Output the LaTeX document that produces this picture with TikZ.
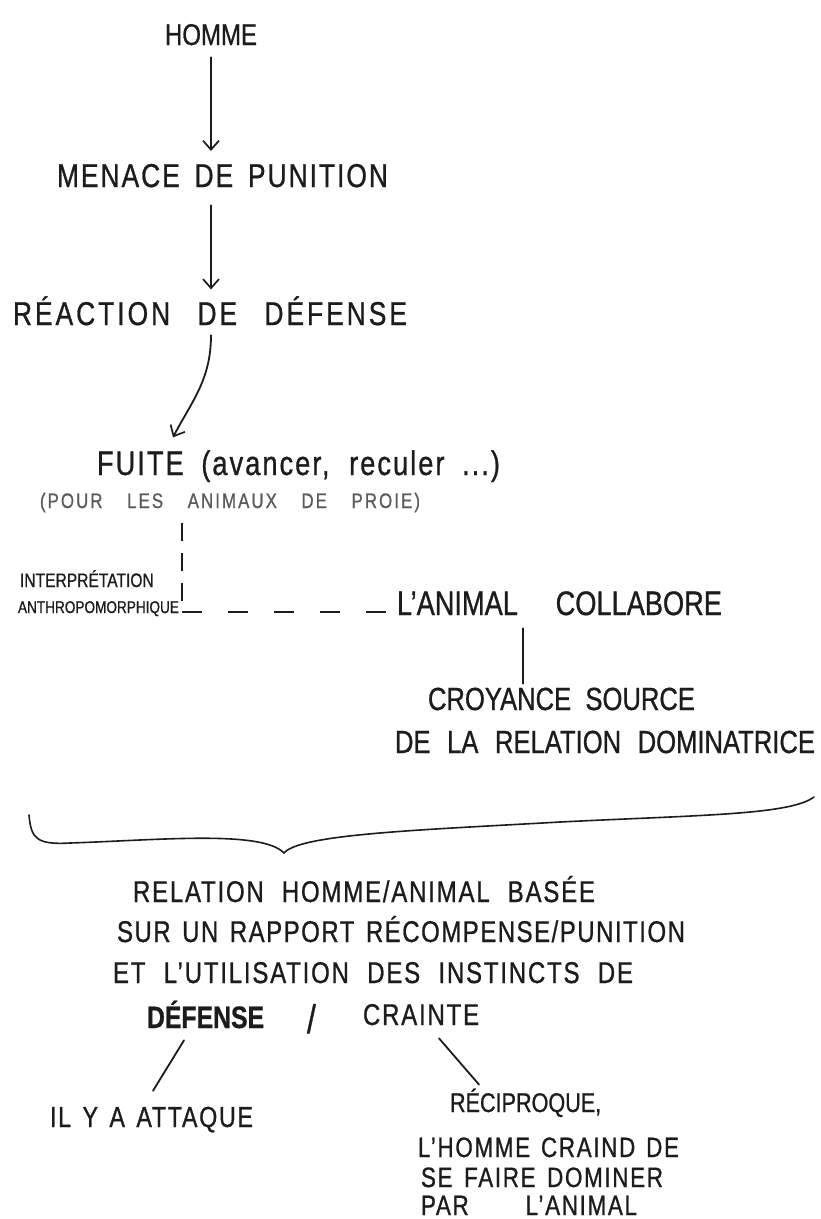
\documentclass[tikz,border=0pt]{standalone}
\usepackage{fontspec}
\setmainfont{Liberation Sans}[FakeStretch=0.8,FakeBold=0.8]
\usetikzlibrary{arrows.meta}
\definecolor{ink}{HTML}{1C1C1C}
\definecolor{pale}{HTML}{5A5A5A}
\newcommand\fsz[1]{\fontsize{#1}{#1}\selectfont}
\newcommand\lsp[1]{\addfontfeatures{LetterSpace=#1}}
\newcommand\wl[2]{\makebox[#1][s]{#2}}
\begin{document}
\begin{tikzpicture}[x=1pt,y=-1pt,
  txt/.style={inner sep=0pt, outer sep=0pt, text=ink, anchor=base west},
  conn/.style={draw=ink, line width=1.8pt, line cap=round},
  arr/.style={conn, -{Straight Barb[length=9pt,width=16pt,line width=1.7pt]}},
  dashv/.style={draw=ink, line width=1.8pt, dash pattern=on 18pt off 12pt},
  dashh/.style={draw=ink, line width=1.8pt, dash pattern=on 20pt off 26pt}]

\fill[white] (0,0) rectangle (820,1219);
\useasboundingbox (0,0) rectangle (820,1219);

% texts
\node[txt] (homme) at (165,45) {\fsz{30}HOMME};
\node[txt] (menace) at (57,187) {\fsz{33}\lsp{6}\wl{331pt}{MENACE DE PUNITION}};
\node[txt] (reac) at (13,325) {\fsz{33}\lsp{9}\wl{394pt}{RÉACTION DE DÉFENSE}};
\node[txt] (fuite) at (97,475) {\fsz{34}\lsp{6}\wl{403pt}{FUITE (avancer, reculer ...)}};
\node[txt, text=pale] (pour) at (40,508) {\fsz{21}\lsp{10}\wl{380pt}{(POUR LES ANIMAUX DE PROIE)}};
\node[txt] (interp) at (20,587) {\fsz{19.5}INTERPRÉTATION};
\node[txt] (anthro) at (18,613) {\fsz{17}ANTHROPOMORPHIQUE};
\node[txt] (collab) at (397,615) {\fsz{34}\wl{325pt}{L'ANIMAL COLLABORE}};
\node[txt] (croy1) at (428,710) {\fsz{32}\wl{267pt}{CROYANCE SOURCE}};
\node[txt] (croy2) at (395,753) {\fsz{32}\wl{420pt}{DE LA RELATION DOMINATRICE}};
\node[txt] (rel1) at (133,902) {\fsz{30}\lsp{6}\wl{462pt}{RELATION HOMME/ANIMAL BASÉE}};
\node[txt] (rel2) at (117,942) {\fsz{30}\lsp{5}\wl{568pt}{SUR UN RAPPORT RÉCOMPENSE/PUNITION}};
\node[txt] (rel3) at (113,983) {\fsz{30}\lsp{6}\wl{520pt}{ET L'UTILISATION DES INSTINCTS DE}};
\node[txt] (defense) at (147,1028) {\fsz{31}\bfseries DÉFENSE};
\node[txt] (slash) at (307,1033) {\fsz{40}/};
\node[txt] (crainte) at (363,1025) {\fsz{30}\lsp{6}CRAINTE};
\node[txt] (ily) at (50,1127) {\fsz{29}\lsp{6}\wl{203pt}{IL Y A ATTAQUE}};
\node[txt] (recip1) at (450,1112) {\fsz{27}RÉCIPROQUE,};
\node[txt] (recip2) at (418,1157) {\fsz{28}\lsp{6}\wl{261pt}{L'HOMME CRAIND DE}};
\node[txt] (recip3) at (421,1187) {\fsz{28}\lsp{6}\wl{242pt}{SE FAIRE DOMINER}};
\node[txt] (recip4) at (421,1215) {\fsz{28}\lsp{6}\wl{216pt}{PAR L'ANIMAL}};

% connectors
\draw[arr, shorten <=12pt, shorten >=13pt] (homme.south) -- (homme.south |- menace.north);
\coordinate (a2s) at (homme.south |- menace.south);
\coordinate (a2e) at (homme.south |- reac.north);
\draw[arr, shorten <=18pt, shorten >=7pt] (a2s) -- (a2e);
\coordinate (a3) at (homme.south |- reac.south);
\draw[arr] ([yshift=-10pt]a3) .. controls +(0,45) and +(18,-35) .. ([xshift=76pt,yshift=13pt]fuite.north west);

\coordinate (bend) at (182,612);
\draw[dashv] ([xshift=142pt,yshift=-11pt]pour.south west) -- (bend);
\draw[dashh, shorten >=8pt] (bend) -- (bend -| collab.west);

\coordinate (cl) at ([xshift=126pt]collab.south west);
\draw[conn, shorten <=13pt, shorten >=4pt] (cl) -- (cl |- croy1.north);

% brace
\draw[conn, line width=1.6pt] (29,815) .. controls (31,838) and (36,845) .. (70,843)
  .. controls (160,840) and (262,830) .. (284,853)
  .. controls (300,834) and (420,830) .. (560,822)
  .. controls (700,815) and (790,815) .. (814,797);

\draw[conn] ([xshift=37pt,yshift=-12pt]defense.south west) -- ([xshift=103pt,yshift=16pt]ily.north west);
\draw[conn] ([xshift=76pt,yshift=-13pt]crainte.south west) -- ([xshift=29pt,yshift=4pt]recip1.north west);
\end{tikzpicture}
\end{document}
